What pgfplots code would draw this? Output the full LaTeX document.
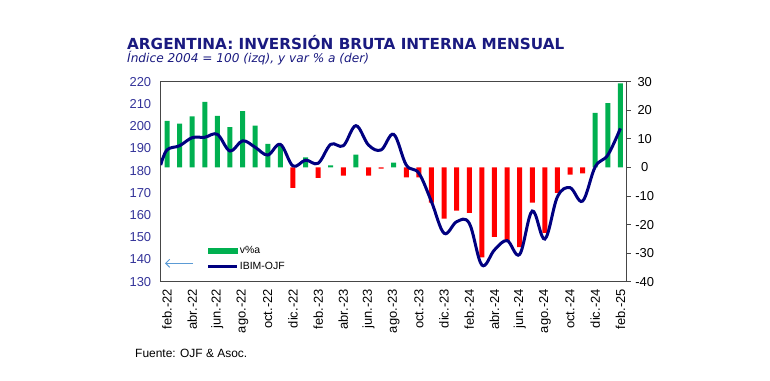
\documentclass[border=0pt]{standalone}
\usepackage{pgfplots}
\pgfplotsset{compat=1.18}
\usetikzlibrary{arrows.meta}
\usepackage{fontspec}
\setmainfont{Liberation Sans}
\newfontfamily\titlefont{DejaVu Sans}
\definecolor{barg}{RGB}{0,176,80}
\definecolor{barr}{RGB}{255,0,0}
\definecolor{lnavy}{RGB}{0,0,128}
\definecolor{tnavy}{RGB}{26,26,128}
\definecolor{lblue}{RGB}{51,51,153}
\definecolor{arrowblue}{RGB}{91,155,213}
\definecolor{frame}{RGB}{70,70,70}
\begin{document}
\begin{tikzpicture}[x=1bp,y=1bp]
\path (0,0) rectangle (770,380);
% ---------- bars on right axis ----------
\begin{axis}[at={(160.7bp,98.3bp)}, anchor=south west, scale only axis,
  width=466bp, height=200bp,
  xmin=-0.5, xmax=36.5, ymin=-40, ymax=30,
  ytick={-40,-30,...,30}, yticklabel pos=right, ytick pos=right,
  tick align=outside, major tick length=4bp,
  xtick={0,2,...,36},
  xticklabels={feb.-22,abr.-22,jun.-22,ago.-22,oct.-22,dic.-22,feb.-23,abr.-23,jun.-23,ago.-23,oct.-23,dic.-23,feb.-24,abr.-24,jun.-24,ago.-24,oct.-24,dic.-24,feb.-25},
  xtick style={draw=none},
  ytick style={frame, line width=0.8bp},
  xticklabel style={rotate=90, anchor=east, font=\fontsize{13}{15}\selectfont},
  yticklabel style={anchor=center, xshift=14bp, font=\fontsize{13}{15}\selectfont},
  /pgf/number format/assume math mode=true,
  axis line style={frame, line width=1.2bp},
  ybar, bar width=5bp,
]
\addplot[fill=barg, draw=none, bar shift=0pt] coordinates {
(0,16.3)(1,15.3)(2,17.9)(3,22.9)(4,18.0)(5,14.1)(6,19.7)(7,14.6)(8,8.2)(9,7.6)
(11,3.5)(13,0.7)(15,4.5)(18,1.7)(34,19.1)(35,22.5)(36,29.4)};
\addplot[fill=barr, draw=none, bar shift=0pt] coordinates {
(10,-7.2)(12,-3.7)(14,-2.9)(16,-2.9)(17,-0.4)(19,-3.5)(20,-3.5)(21,-12.3)(22,-17.9)
(23,-15.1)(24,-15.9)(25,-31.5)(26,-24.3)(27,-25.7)(28,-27.9)(29,-12.3)(30,-22.9)
(31,-8.9)(32,-2.5)(33,-2.1)};
\end{axis}
% ---------- line on left axis ----------
\begin{axis}[at={(160.7bp,98.3bp)}, anchor=south west, scale only axis,
  width=466bp, height=200bp,
  xmin=-0.5, xmax=36.5, ymin=130, ymax=220,
  ytick={130,140,...,220}, xtick=\empty,
  ytick pos=left, ytick style={draw=none},
  axis line style={draw=none},
  yticklabel style={text=lblue, font=\fontsize{13}{15}\selectfont, xshift=-6bp},
  /pgf/number format/assume math mode=true,
  clip=true,
  legend style={at={(0.0987,0.1835)}, anchor=north west, draw=none, fill=none,
    inner sep=0pt, font=\fontsize{10.5}{12}\selectfont, row sep=5bp,
    nodes={inner sep=1bp}},
  legend cell align=left,
]
\addlegendimage{legend image code/.code={\fill[barg] (0bp,-2.5bp) rectangle (29bp,2.5bp);}}
\addlegendentry{v\%a}
\addplot[lnavy, line width=3bp, smooth, tension=0.6,
  legend image code/.code={\draw[lnavy, line width=3bp] (0bp,0bp) -- (29bp,0bp);}] coordinates {
(-0.5,182.5)(0,189.3)(1,191.2)(2,194.8)(3,195.0)(4,196.3)(5,188.8)(6,193.4)(7,190.5)
(8,187.0)(9,191.8)(10,182.1)(11,184.7)(12,183.3)(13,191.8)(14,191.2)(15,200.2)
(16,191.5)(17,189.3)(18,196.3)(19,182.5)(20,178.8)(21,166.0)(22,151.8)(23,157.0)
(24,156.3)(25,137.5)(26,144.3)(27,148.5)(28,142.3)(29,161.8)(30,149.2)(31,168.2)
(32,172.3)(33,166.3)(34,181.7)(35,187.0)(36,199.0)};
\addlegendentry{IBIM-OJF}
\end{axis}
% arrow pointing to left axis
\draw[arrowblue, line width=1bp, -{Straight Barb[length=4bp,width=8bp]}] (193,116.7) -- (165,116.7);
% titles
\node[anchor=base west, inner sep=0, text=tnavy, font=\titlefont\bfseries\fontsize{15.3}{18}\selectfont] at (127,331) {ARGENTINA: INVERSIÓN BRUTA INTERNA MENSUAL};
\node[anchor=base west, inner sep=0, text=tnavy, font=\titlefont\itshape\fontsize{12.2}{14}\selectfont] at (127,318) {Índice 2004 = 100 (izq), y var \% a (der)};
\node[anchor=base west, inner sep=0, font=\fontsize{12}{14}\selectfont] at (135,23) {Fuente: OJF \& Asoc.};
\end{tikzpicture}
\end{document}
